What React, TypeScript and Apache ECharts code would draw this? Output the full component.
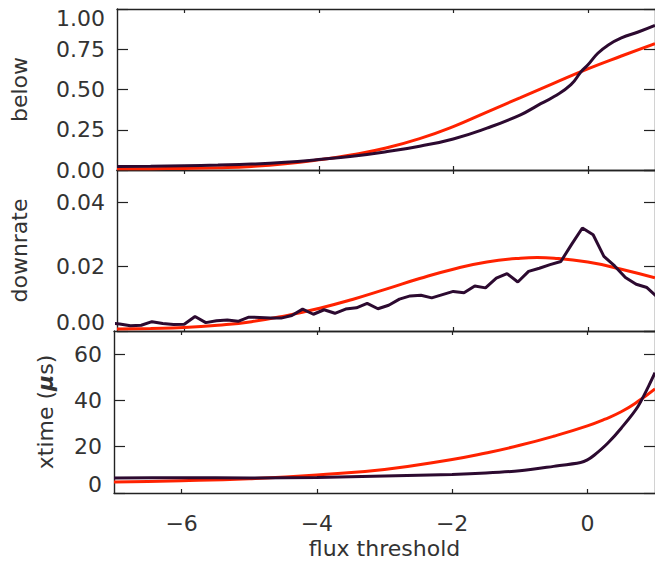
import React, { useEffect, useRef } from 'react';
import * as echarts from 'echarts';

// ---- data ----
const xTickValues = [-6, -4, -2, 0];

// panel 1: "below"
const belowRedX = [-7, -6.5, -6, -5.5, -5, -4.5, -4, -3.5, -3, -2.5, -2, -1.5, -1, -0.5, 0, 0.5, 1];
const belowRedY = [0.007, 0.008, 0.01, 0.014, 0.022, 0.038, 0.063, 0.095, 0.137, 0.195, 0.27, 0.36, 0.45, 0.54, 0.628, 0.708, 0.785];
const belowPurpleX = [-7, -6.5, -6, -5.5, -5, -4.5, -4, -3.5, -3, -2.5, -2, -1.5, -1, -0.75, -0.5, -0.25, -0.1, 0, 0.15, 0.3, 0.5, 0.75, 1];
const belowPurpleY = [0.022, 0.024, 0.027, 0.031, 0.037, 0.048, 0.065, 0.085, 0.113, 0.148, 0.193, 0.26, 0.343, 0.4, 0.456, 0.53, 0.61, 0.652, 0.725, 0.775, 0.82, 0.857, 0.898];

// panel 2: "downrate"
const drStart = -7.12;
const drStep = 0.16;
const drPurpleY = [
  0.0025, 0.0022, 0.0016, 0.0018, 0.0029, 0.0023, 0.002, 0.0021, 0.0045, 0.0026,
  0.0032, 0.0034, 0.003, 0.0043, 0.0042, 0.004, 0.004, 0.0048, 0.0068, 0.0052,
  0.0066, 0.0055, 0.0068, 0.0072, 0.0086, 0.0069, 0.008, 0.0099, 0.0109, 0.0111,
  0.0103, 0.0113, 0.0123, 0.0119, 0.014, 0.0134, 0.0164, 0.0178, 0.0152, 0.0185,
  0.0195, 0.0206, 0.0216, 0.0269, 0.032, 0.0299, 0.0232, 0.0202, 0.0166, 0.0145,
  0.0135, 0.0104,
];
const drRedX = [-7, -6.5, -6, -5.5, -5, -4.5, -4, -3.5, -3, -2.5, -2, -1.5, -1, -0.75, -0.5, 0, 0.5, 1];
const drRedY = [0.0006, 0.0008, 0.0011, 0.0018, 0.0029, 0.0047, 0.007, 0.0098, 0.013, 0.0163, 0.0192, 0.0214, 0.0226, 0.0228, 0.0226, 0.0214, 0.0192, 0.0165];

// panel 3: "xtime (μs)"
const xtRedX = [-7, -6, -5, -4, -3, -2, -1.5, -1, -0.5, 0, 0.25, 0.5, 0.75, 1];
const xtRedY = [4.8, 5.3, 6.2, 7.8, 10.2, 14.5, 17.3, 20.6, 24.5, 29.0, 31.8, 35.1, 39.6, 45.0];
const xtPurpleX = [-7, -6, -5, -4, -3, -2, -1.5, -1, -0.5, -0.1, 0, 0.1, 0.3, 0.5, 0.75, 1];
const xtPurpleY = [6.5, 6.6, 6.5, 6.7, 7.3, 8.0, 8.6, 9.6, 11.5, 13.2, 14.3, 16.3, 21.5, 28.0, 37.5, 52.0];

const RED = '#ff2200';
const PURPLE = '#2c0a30';
const AXIS = '#222222';
const TEXT = '#333333';
const FONT = "'DejaVu Sans', sans-serif";
const FS = 22;

const pairs = (xs: number[], ys: number[]) => xs.map((x, i) => [x, ys[i]]);

export default function App() {
  const ref = useRef<HTMLDivElement>(null);

  useEffect(() => {
    const chart = echarts.init(ref.current!, null, { renderer: 'svg' });

    const grids = [
      { left: 114, top: 9, width: 544, height: 161 },
      { left: 114, top: 170, width: 544, height: 161 },
      { left: 114, top: 331, width: 544, height: 162 },
    ];

    const axisLine = { show: true, onZero: false, lineStyle: { color: AXIS, width: 1.4 } };
    const fmtX = (v: number) => (v < 0 ? '\u2212' + Math.abs(v) : String(v));

    const xAxes: any[] = [];
    for (let i = 0; i < 3; i++) {
      for (const pos of ['bottom', 'top']) {
        const showLab = i === 2 && pos === 'bottom';
        xAxes.push({
          type: 'value',
          gridIndex: i,
          position: pos,
          min: -7,
          max: 1,
          axisLine,
          splitLine: { show: false },
          axisTick: { show: true, inside: true, length: 4, customValues: xTickValues, lineStyle: { color: AXIS, width: 1.2 } },
          axisLabel: {
            show: showLab,
            customValues: xTickValues,
            formatter: fmtX,
            margin: 19,
            lineHeight: 22,
            fontFamily: FONT,
            fontSize: FS,
            color: TEXT,
          },
          name: showLab ? 'flux threshold' : '',
          nameLocation: 'middle',
          nameGap: 44,
          nameTextStyle: { fontFamily: FONT, fontSize: FS, color: TEXT, lineHeight: 22 },
        });
      }
    }

    const yDefs = [
      { min: 0, max: 1, interval: 0.25, fmt: (v: number) => v.toFixed(2), name: 'below', gap: 87, showMax: true, vMax: 'top', vMin: null },
      { min: 0, max: 0.05, interval: 0.02, fmt: (v: number) => v.toFixed(2), name: 'downrate', gap: 87, showMax: false, vMax: null, vMin: 'bottom' },
      { min: 0, max: 70, interval: 20, fmt: (v: number) => String(v), name: '{n|xtime (}{m|\u03bc}{n|s)}', gap: 58, showMax: false, vMax: null, vMin: 'bottom' },
    ];

    const yAxes: any[] = [];
    yDefs.forEach((d, i) => {
      for (const pos of ['left', 'right']) {
        const left = pos === 'left';
        yAxes.push({
          type: 'value',
          gridIndex: i,
          position: pos,
          min: d.min,
          max: d.max,
          interval: d.interval,
          axisLine,
          splitLine: { show: false },
          axisTick: { show: true, inside: true, length: 11, lineStyle: { color: AXIS, width: 1.2 } },
          axisLabel: {
            show: left,
            formatter: d.fmt,
            margin: 12,
            showMaxLabel: d.showMax,
            showMinLabel: true,
            verticalAlignMaxLabel: d.vMax,
            verticalAlignMinLabel: d.vMin,
            lineHeight: 18,
            fontFamily: FONT,
            fontSize: FS,
            color: TEXT,
          },
          name: left ? d.name : '',
          nameLocation: 'middle',
          nameRotate: 90,
          nameGap: d.gap,
          nameTextStyle: {
            fontFamily: FONT,
            fontSize: FS,
            color: TEXT,
            lineHeight: 22,
            rich: {
              n: { fontFamily: FONT, fontSize: FS, color: TEXT, lineHeight: 22 },
              m: { fontFamily: FONT, fontSize: FS, color: TEXT, lineHeight: 22, fontStyle: 'italic', fontWeight: 'bold' },
            },
          },
        });
      }
    });

    const drX = drPurpleY.map((_, k) => +(drStart + k * drStep).toFixed(2));

    const line = (i: number, data: number[][], color: string, smooth: any) => ({
      type: 'line',
      xAxisIndex: 2 * i,
      yAxisIndex: 2 * i,
      data,
      showSymbol: false,
      symbol: 'none',
      smooth,
      clip: true,
      lineStyle: { color, width: 3 },
    });

    chart.setOption({
      animation: false,
      backgroundColor: '#ffffff',
      grid: grids,
      xAxis: xAxes,
      yAxis: yAxes,
      series: [
        line(0, pairs(belowRedX, belowRedY), RED, 0.5),
        line(0, pairs(belowPurpleX, belowPurpleY), PURPLE, 0.5),
        line(1, pairs(drRedX, drRedY), RED, 0.5),
        line(1, pairs(drX, drPurpleY), PURPLE, false),
        line(2, pairs(xtRedX, xtRedY), RED, 0.5),
        line(2, pairs(xtPurpleX, xtPurpleY), PURPLE, 0.3),
      ],
    });

    return () => chart.dispose();
  }, []);

  return (
    <div
      ref={ref}
      style={{ position: 'fixed', left: 0, top: 0, width: 655, height: 568, background: '#fff' }}
    />
  );
}
